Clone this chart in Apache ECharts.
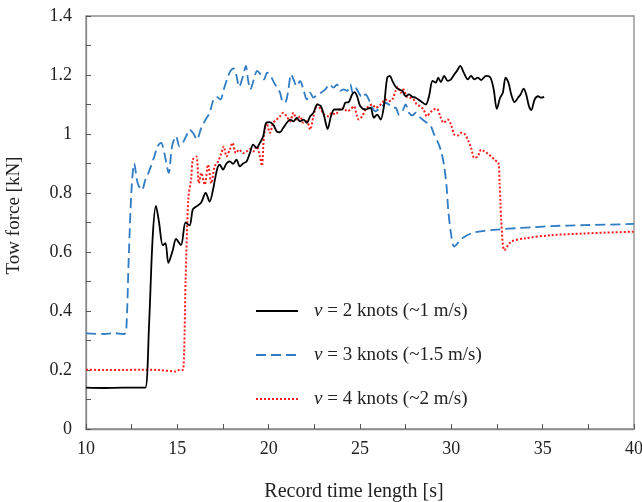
<!DOCTYPE html>
<html>
<head>
<meta charset="utf-8">
<script src="https://cdn.jsdelivr.net/npm/echarts@6/dist/echarts.min.js"></script>
<style>
html,body{margin:0;padding:0;background:#fff;}
#c{width:642px;height:502px;}
</style>
</head>
<body>
<div id="c"></div>
<script>
// ---- data ----
var seriesNames = ['v = 2 knots (~1 m/s)', 'v = 3 knots (~1.5 m/s)', 'v = 4 knots (~2 m/s)'];
var xTickLabels = [10, 15, 20, 25, 30, 35, 40];
var yTickLabels = [0, 0.2, 0.4, 0.6, 0.8, 1, 1.2, 1.4];

var time2 = [10, 11, 12, 13, 13.25, 13.45, 13.65, 13.83, 14.0, 14.2, 14.35, 14.51, 14.75, 14.93, 15.2, 15.45, 15.67, 15.85, 16.04, 16.3, 16.55, 16.77, 16.95, 17.17, 17.32, 17.5, 17.69, 17.87, 18.05, 18.24, 18.42, 18.6, 18.79, 18.97, 19.15, 19.34, 19.52, 19.7, 19.85, 20.03, 20.25, 20.44, 20.62, 20.8, 20.99, 21.17, 21.36, 21.54, 21.72, 21.9, 22.09, 22.27, 22.45, 22.67, 22.86, 23.04, 23.23, 23.41, 23.59, 23.83, 24.02, 24.2, 24.38, 24.57, 24.7, 24.84, 25.02, 25.3, 25.57, 25.76, 25.94, 26.13, 26.31, 26.49, 26.64, 26.77, 26.95, 27.13, 27.32, 27.5, 27.68, 27.87, 28.05, 28.33, 28.6, 28.78, 28.97, 29.15, 29.28, 29.43, 29.61, 29.8, 29.98, 30.16, 30.31, 30.49, 30.68, 30.9, 31.08, 31.26, 31.45, 31.63, 31.9, 32.14, 32.32, 32.49, 32.67, 32.82, 32.97, 33.13, 33.28, 33.46, 33.65, 33.79, 33.96, 34.1, 34.25, 34.38, 34.56, 34.75, 34.93, 35.08];
var force2 = [0.14, 0.139, 0.14, 0.14, 0.14, 0.35, 0.65, 0.756, 0.70, 0.623, 0.63, 0.563, 0.606, 0.644, 0.623, 0.70, 0.69, 0.745, 0.754, 0.767, 0.80, 0.771, 0.81, 0.879, 0.896, 0.879, 0.90, 0.907, 0.899, 0.913, 0.89, 0.90, 0.907, 0.935, 0.964, 0.953, 0.97, 0.992, 1.037, 1.04, 1.032, 1.009, 1.006, 1.021, 1.038, 1.049, 1.043, 1.055, 1.043, 1.049, 1.038, 1.06, 1.072, 1.10, 1.094, 1.06, 1.017, 1.06, 1.083, 1.083, 1.083, 1.106, 1.108, 1.134, 1.142, 1.128, 1.094, 1.083, 1.089, 1.055, 1.066, 1.049, 1.094, 1.191, 1.197, 1.18, 1.16, 1.151, 1.146, 1.128, 1.134, 1.126, 1.123, 1.111, 1.10, 1.128, 1.18, 1.174, 1.191, 1.176, 1.197, 1.18, 1.185, 1.202, 1.214, 1.231, 1.208, 1.185, 1.197, 1.185, 1.191, 1.183, 1.197, 1.191, 1.151, 1.085, 1.123, 1.14, 1.191, 1.174, 1.134, 1.108, 1.123, 1.134, 1.154, 1.134, 1.094, 1.081, 1.117, 1.128, 1.123, 1.126];

var time3 = [10, 11, 11.5, 12.09, 12.2, 12.35, 12.5, 12.64, 12.83, 13.06, 13.25, 13.38, 13.56, 13.74, 13.92, 14.11, 14.29, 14.53, 14.71, 14.93, 15.12, 15.3, 15.48, 15.67, 15.89, 16.07, 16.31, 16.55, 16.77, 16.95, 17.14, 17.36, 17.54, 17.72, 17.91, 18.09, 18.24, 18.38, 18.6, 18.75, 18.88, 19.0, 19.19, 19.37, 19.56, 19.74, 19.92, 20.11, 20.29, 20.47, 20.62, 20.8, 20.95, 21.08, 21.23, 21.36, 21.54, 21.72, 21.9, 22.09, 22.27, 22.45, 22.67, 22.86, 23.1, 23.33, 23.55, 23.74, 23.92, 24.1, 24.29, 24.47, 24.6, 24.75, 24.93, 25.12, 25.3, 25.48, 25.67, 25.85, 26.03, 26.22, 26.4, 26.58, 26.77, 26.95, 27.13, 27.32, 27.5, 27.68, 27.87, 28.05, 28.23, 28.42, 28.66, 28.88, 29.06, 29.28, 29.47, 29.61, 29.74, 29.83, 29.98, 30.16, 30.53, 31.08, 31.81, 32.73, 33.65, 34.56, 35.48, 37.31, 40];
var force3 = [0.324, 0.322, 0.325, 0.322, 0.33, 0.6, 0.82, 0.90, 0.833, 0.81, 0.845, 0.862, 0.892, 0.924, 0.958, 0.97, 0.935, 0.868, 0.958, 0.992, 0.958, 0.97, 0.992, 1.015, 1.001, 0.981, 1.021, 1.049, 1.072, 1.111, 1.126, 1.117, 1.151, 1.185, 1.214, 1.222, 1.197, 1.16, 1.197, 1.231, 1.18, 1.151, 1.185, 1.214, 1.202, 1.185, 1.208, 1.197, 1.174, 1.157, 1.14, 1.106, 1.111, 1.151, 1.202, 1.185, 1.162, 1.18, 1.151, 1.117, 1.14, 1.123, 1.134, 1.14, 1.151, 1.168, 1.157, 1.168, 1.146, 1.151, 1.146, 1.168, 1.14, 1.157, 1.14, 1.123, 1.134, 1.117, 1.089, 1.077, 1.085, 1.094, 1.106, 1.10, 1.089, 1.089, 1.066, 1.077, 1.10, 1.072, 1.063, 1.072, 1.06, 1.049, 1.038, 1.026, 0.998, 0.97, 0.935, 0.89, 0.822, 0.743, 0.663, 0.618, 0.643, 0.663, 0.672, 0.677, 0.681, 0.684, 0.688, 0.691, 0.695];

var time4 = [10, 11, 12, 13, 14, 14.93, 15.1, 15.3, 15.45, 15.6, 15.76, 15.85, 16.04, 16.18, 16.31, 16.5, 16.68, 16.86, 17.04, 17.23, 17.41, 17.54, 17.69, 17.87, 18.02, 18.2, 18.38, 18.6, 18.79, 18.97, 19.15, 19.34, 19.52, 19.63, 19.74, 19.89, 20.07, 20.25, 20.44, 20.62, 20.8, 20.99, 21.17, 21.36, 21.54, 21.72, 21.9, 22.09, 22.27, 22.45, 22.67, 22.86, 23.04, 23.28, 23.46, 23.65, 23.88, 24.1, 24.29, 24.47, 24.66, 24.84, 24.93, 25.12, 25.3, 25.48, 25.67, 25.85, 26.03, 26.22, 26.4, 26.58, 26.77, 26.95, 27.08, 27.23, 27.38, 27.56, 27.74, 27.93, 28.11, 28.29, 28.48, 28.66, 28.84, 29.03, 29.21, 29.39, 29.58, 29.8, 29.98, 30.16, 30.35, 30.53, 30.71, 30.9, 31.08, 31.26, 31.45, 31.63, 31.81, 32.0, 32.18, 32.4, 32.58, 32.64, 32.69, 32.73, 32.91, 33.28, 34.0, 35.48, 37.31, 40];
var force4 = [0.201, 0.20, 0.20, 0.201, 0.20, 0.195, 0.20, 0.20, 0.5, 0.78, 0.85, 0.913, 0.924, 0.833, 0.868, 0.828, 0.896, 0.833, 0.89, 0.907, 0.935, 0.958, 0.924, 0.947, 0.97, 0.935, 0.947, 0.935, 0.941, 0.949, 0.941, 0.958, 0.924, 0.892, 0.992, 1.037, 1.004, 1.038, 1.049, 1.06, 1.072, 1.06, 1.043, 1.072, 1.049, 1.06, 1.038, 1.043, 1.015, 1.06, 1.10, 1.083, 1.066, 1.06, 1.072, 1.066, 1.083, 1.089, 1.077, 1.083, 1.094, 1.06, 1.049, 1.06, 1.083, 1.094, 1.10, 1.089, 1.094, 1.106, 1.117, 1.111, 1.117, 1.146, 1.16, 1.14, 1.151, 1.126, 1.123, 1.117, 1.10, 1.094, 1.083, 1.06, 1.072, 1.083, 1.085, 1.06, 1.038, 1.049, 1.032, 0.998, 0.995, 1.004, 1.001, 0.981, 0.953, 0.919, 0.924, 0.947, 0.941, 0.933, 0.924, 0.911, 0.902, 0.833, 0.765, 0.708, 0.606, 0.635, 0.646, 0.657, 0.663, 0.669];

function pairs(t, v) { return t.map(function (x, i) { return [x, v[i]]; }); }

var FONT = "'Liberation Serif', 'Times New Roman', serif";
var axisGray = '#8a8a8a';

var chart = echarts.init(document.getElementById('c'), null, { renderer: 'canvas' });
chart.setOption({
  animation: false,
  backgroundColor: '#fff',
  grid: { left: 86, right: 8, top: 16, bottom: 73, outerBoundsMode: 'none', containLabel: false,
    show: true, borderColor: axisGray, borderWidth: 1.3, backgroundColor: 'transparent' },
  legend: {
    orient: 'vertical',
    left: 250,
    top: 296,
    itemWidth: 42,
    itemHeight: 14,
    itemGap: 24,
    data: seriesNames,
    itemStyle: { opacity: 0 },
    textStyle: {
      fontFamily: FONT, fontSize: 19, color: '#222', lineHeight: 20,
      rich: {
        s: { width: 11 },
        i: { fontFamily: FONT, fontSize: 19, fontStyle: 'italic', color: '#222' },
        t: { fontFamily: FONT, fontSize: 19, color: '#222' }
      }
    },
    formatter: function (name) { return '{s|}{i|v}{t|' + name.slice(1) + '}'; }
  },
  xAxis: {
    type: 'value', min: xTickLabels[0], max: xTickLabels[xTickLabels.length - 1], interval: 5,
    name: 'Record time length [s]', nameLocation: 'middle', nameGap: 53,
    nameTextStyle: { fontFamily: FONT, fontSize: 20, color: '#222', padding: [0, 12, 0, 0] },
    axisLine: { show: true, lineStyle: { color: axisGray, width: 1.3 } },
    axisTick: { show: true, inside: true, length: 5, lineStyle: { color: '#555' } },
    minorTick: { show: true, splitNumber: 2, length: 5, lineStyle: { color: '#555' } },
    splitLine: { show: false },
    axisLabel: { fontFamily: FONT, fontSize: 18, color: '#222', margin: 11 }
  },
  yAxis: {
    type: 'value', min: yTickLabels[0], max: yTickLabels[yTickLabels.length - 1], interval: 0.2,
    name: 'Tow force [kN]', nameLocation: 'middle', nameGap: 62, nameRotate: 90,
    nameTextStyle: { fontFamily: FONT, fontSize: 19, color: '#222', padding: [0, 0, 0, 14] },
    axisLine: { show: true, lineStyle: { color: axisGray, width: 1.3 } },
    axisTick: { show: true, inside: true, length: 5, lineStyle: { color: '#555' } },
    minorTick: { show: true, splitNumber: 2, length: 5, lineStyle: { color: '#555' } },
    splitLine: { show: false },
    axisLabel: { fontFamily: FONT, fontSize: 18, color: '#222', margin: 14 }
  },
  series: [
    { name: seriesNames[0], type: 'line', showSymbol: false, symbol: 'none', smooth: 0.3, data: pairs(time2, force2),
      lineStyle: { color: '#000', width: 1.8 }, itemStyle: { color: '#000' }, z: 3 },
    { name: seriesNames[1], type: 'line', showSymbol: false, symbol: 'none', smooth: 0.3, data: pairs(time3, force3),
      lineStyle: { color: '#2f7cc4', width: 1.8, type: [10, 5] }, itemStyle: { color: '#2f7cc4' }, z: 2 },
    { name: seriesNames[2], type: 'line', showSymbol: false, symbol: 'none', smooth: 0.3, data: pairs(time4, force4),
      lineStyle: { color: '#ff1a1a', width: 2, type: [2, 2] }, itemStyle: { color: '#ff1a1a' }, z: 2 }
  ]
});
</script>
</body>
</html>
